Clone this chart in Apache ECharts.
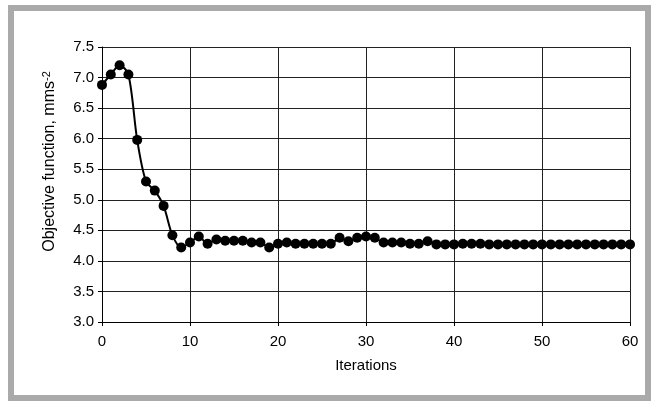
<!DOCTYPE html>
<html>
<head>
<meta charset="utf-8">
<script src="https://cdn.jsdelivr.net/npm/echarts@6/dist/echarts.min.js"></script>
<style>
  html, body { margin: 0; padding: 0; background: #fff; }
  #chart { width: 652px; height: 403px; }
</style>
</head>
<body>
<div id="chart"></div>
<script>
var iterations = [];
for (var i = 0; i <= 60; i++) iterations.push(i);

var objective = [
  6.88, 7.05, 7.2, 7.05, 5.98, 5.3, 5.15, 4.9, 4.42, 4.22,
  4.3, 4.4, 4.28, 4.35, 4.33, 4.33, 4.33, 4.3, 4.3, 4.22,
  4.28, 4.3, 4.28, 4.28, 4.28, 4.28, 4.28, 4.38, 4.32, 4.38,
  4.4, 4.38, 4.3, 4.3, 4.3, 4.28, 4.28, 4.32, 4.27, 4.27,
  4.27, 4.28, 4.28, 4.28, 4.27, 4.27, 4.27, 4.27, 4.27, 4.27,
  4.27, 4.27, 4.27, 4.27, 4.27, 4.27, 4.27, 4.27, 4.27, 4.27,
  4.27
];

var chart = echarts.init(document.getElementById('chart'));

var font = 'Liberation Sans, Arial, sans-serif';

var option = {
  backgroundColor: '#fff',
  animation: false,
  graphic: [{
    type: 'rect',
    shape: { x: 11, y: 8, width: 637, height: 390 },
    style: { fill: 'none', stroke: '#aaaaaa', lineWidth: 6 },
    z: -1
  }],
  grid: {
    left: 102,
    right: 22,
    top: 47,
    bottom: 81
  },
  xAxis: {
    type: 'value',
    min: 0,
    max: 60,
    interval: 10,
    name: 'Iterations',
    nameLocation: 'middle',
    nameGap: 36,
    nameTextStyle: { color: '#000', fontSize: 15, fontFamily: font },
    axisLine: { show: true, lineStyle: { color: '#000', width: 1 } },
    axisTick: { show: true, length: 4, lineStyle: { color: '#000' } },
    axisLabel: { color: '#000', fontSize: 15, fontFamily: font, margin: 12 },
    splitLine: { show: true, lineStyle: { color: '#222', width: 1 } }
  },
  yAxis: {
    type: 'value',
    min: 3,
    max: 7.5,
    interval: 0.5,
    name: '{n|Objective function, mms}{s|-2}',
    nameLocation: 'middle',
    nameGap: 43,
    nameRotate: 90,
    nameTextStyle: {
      padding: [0, 0, 0, 46],
      rich: {
        n: { color: '#000', fontSize: 16, fontFamily: font },
        s: { color: '#000', fontSize: 11, fontFamily: font, verticalAlign: 'top', padding: [0, 0, 7, 0] }
      }
    },
    axisLine: { show: true, lineStyle: { color: '#000', width: 1 } },
    axisTick: { show: true, length: 4, lineStyle: { color: '#000' } },
    axisLabel: {
      color: '#000', fontSize: 15, fontFamily: font, margin: 8,
      formatter: function (v) { return v.toFixed(1); }
    },
    splitLine: { show: true, lineStyle: { color: '#222', width: 1 } }
  },
  series: [{
    type: 'line',
    data: iterations.map(function (x, k) { return [x, objective[k]]; }),
    smooth: 0.3,
    symbol: 'circle',
    symbolSize: 10,
    itemStyle: { color: '#000' },
    lineStyle: { color: '#000', width: 2 }
  }]
};

chart.setOption(option);
</script>
</body>
</html>
